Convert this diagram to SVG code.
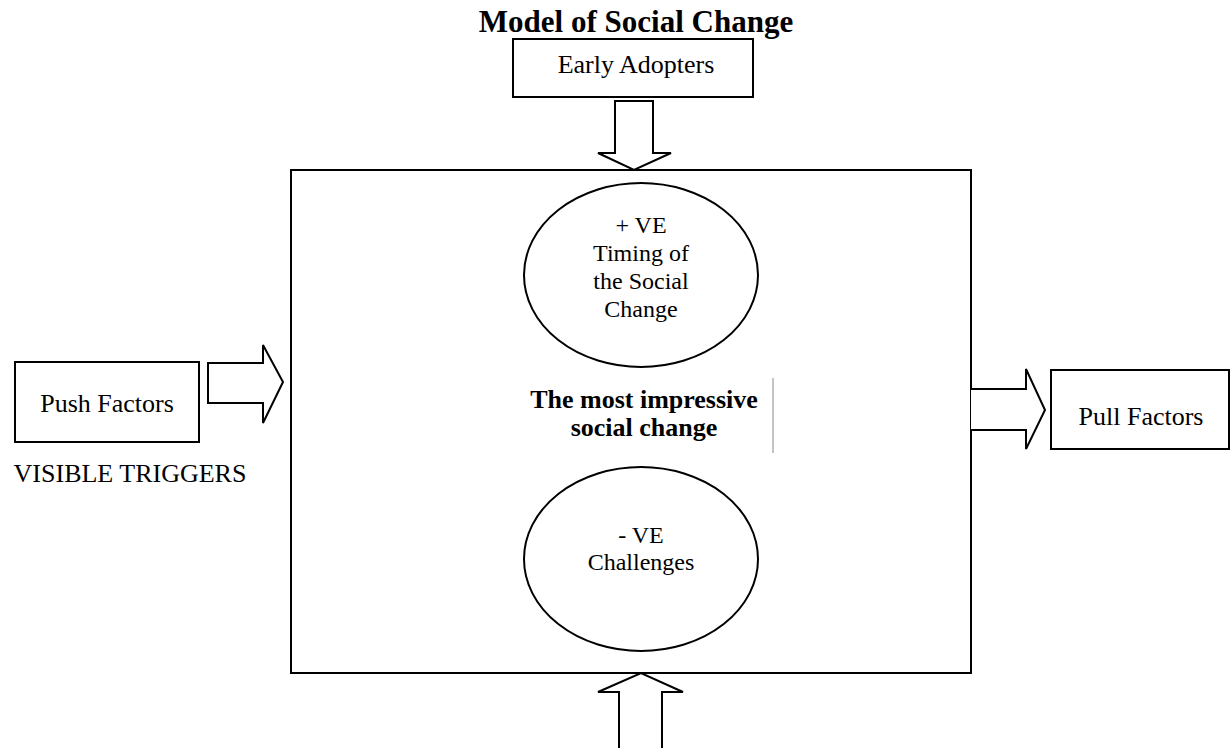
<svg xmlns="http://www.w3.org/2000/svg" width="1232" height="748" viewBox="0 0 1232 748">
<style>
.box{fill:#fff;stroke:#000;stroke-width:2}
.arr{fill:#fff;stroke:#000;stroke-width:2;stroke-linejoin:miter}
.t{font-family:"Liberation Serif","Times New Roman",serif;font-size:26px;fill:#000;text-anchor:middle}
.e{font-family:"Liberation Serif","Times New Roman",serif;font-size:24px;fill:#000;text-anchor:middle}
.b{font-weight:bold}
</style>
<rect width="1232" height="748" fill="#fff"/>
<text class="t b" x="636" y="32" style="font-size:31px">Model of Social Change</text>
<g id="main">
<rect class="box" x="291" y="170" width="680" height="503"/>
<text class="t b" x="644" y="408">The most impressive</text>
<text class="t b" x="644" y="436">social change</text>
<line x1="773" y1="378" x2="773" y2="453" stroke="#888" stroke-width="1"/>
</g>
<g id="early-adopters">
<rect class="box" x="513" y="39" width="240" height="58"/>
<text class="t" x="636" y="73">Early Adopters</text>
</g>
<g id="push-factors">
<rect class="box" x="15" y="362" width="184" height="80"/>
<text class="t" x="107" y="412">Push Factors</text>
<text class="t" x="130" y="482">VISIBLE TRIGGERS</text>
</g>
<g id="pull-factors">
<rect class="box" x="1051" y="370" width="178" height="79"/>
<text class="t" x="1141" y="425">Pull Factors</text>
</g>
<g id="positive">
<ellipse class="box" cx="641" cy="275" rx="117" ry="92"/>
<text class="e" x="641" y="233">+ VE</text>
<text class="e" x="641" y="261">Timing of</text>
<text class="e" x="641" y="289">the Social</text>
<text class="e" x="641" y="317">Change</text>
</g>
<g id="negative">
<ellipse class="box" cx="641" cy="559" rx="117" ry="92"/>
<text class="e" x="641" y="543">- VE</text>
<text class="e" x="641" y="570">Challenges</text>
</g>
<g id="connectors">
<path class="arr" d="M615,101 L653,101 L653,153 L671,153 L634,170 L598,153 L615,153 Z"/>
<path class="arr" d="M208,363 L263,363 L263,345 L283,382 L263,423 L263,403 L208,403 Z"/>
<path class="arr" d="M971,389 L1026,389 L1026,369 L1045,410 L1026,449 L1026,430 L971,430"/>
<path class="arr" d="M619,750 L619,692 L598,692 L641,673 L683,692 L662,692 L662,750"/>
</g>
</svg>
